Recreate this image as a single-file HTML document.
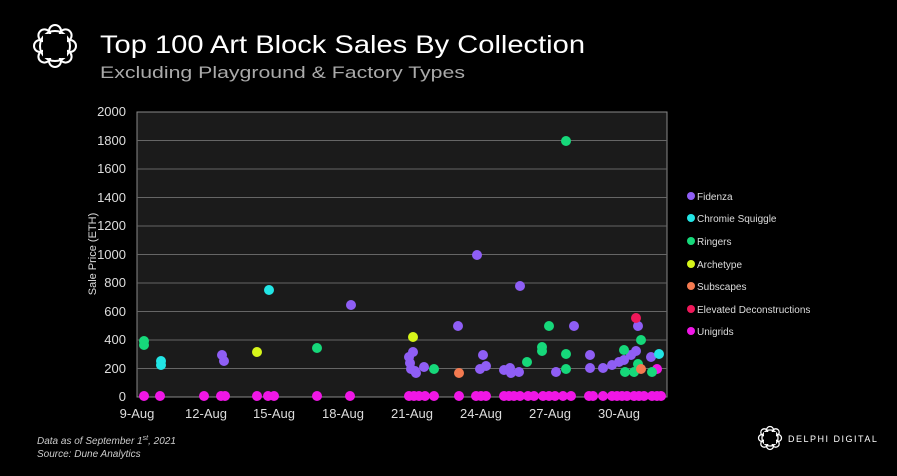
<!DOCTYPE html>
<html><head><meta charset="utf-8"><style>
html,body{margin:0;padding:0;background:#000;}
svg{display:block;font-family:"Liberation Sans",sans-serif;}
</style></head><body>
<svg width="897" height="476" viewBox="0 0 897 476" xmlns="http://www.w3.org/2000/svg">
<rect width="897" height="476" fill="#000"/>
<!-- logo -->
<g fill="none" stroke="#fff" stroke-width="2">
<circle cx="55" cy="46" r="15"/>
<circle cx="55" cy="31" r="6"/><circle cx="70" cy="46" r="6"/><circle cx="55" cy="61" r="6"/><circle cx="40" cy="46" r="6"/>
<circle cx="65.6" cy="35.4" r="6"/><circle cx="65.6" cy="56.6" r="6"/><circle cx="44.4" cy="56.6" r="6"/><circle cx="44.4" cy="35.4" r="6"/>
</g>
<rect x="43" y="34" width="24" height="24" fill="#000"/>
<text x="100" y="53" fill="#fff" font-size="25" textLength="485" lengthAdjust="spacingAndGlyphs">Top 100 Art Block Sales By Collection</text>
<text x="100" y="78" fill="#aaa" font-size="17" textLength="365" lengthAdjust="spacingAndGlyphs">Excluding Playground &amp; Factory Types</text>
<!-- plot -->
<rect x="137" y="112" width="530" height="285" fill="#1b1b1b" stroke="#888" stroke-width="1"/>
<g stroke="#666" stroke-width="1">
<line x1="137" x2="667" y1="140.5" y2="140.5"/><line x1="137" x2="667" y1="169" y2="169"/>
<line x1="137" x2="667" y1="197.5" y2="197.5"/><line x1="137" x2="667" y1="226" y2="226"/>
<line x1="137" x2="667" y1="254.5" y2="254.5"/><line x1="137" x2="667" y1="283" y2="283"/>
<line x1="137" x2="667" y1="311.5" y2="311.5"/><line x1="137" x2="667" y1="340" y2="340"/>
<line x1="137" x2="667" y1="368.5" y2="368.5"/>
</g>
<g fill="#ddd" font-size="13" text-anchor="end">
<text x="126" y="116">2000</text><text x="126" y="145">1800</text><text x="126" y="173">1600</text>
<text x="126" y="202">1400</text><text x="126" y="230">1200</text><text x="126" y="259">1000</text>
<text x="126" y="287">800</text><text x="126" y="316">600</text><text x="126" y="344">400</text>
<text x="126" y="373">200</text><text x="126" y="401">0</text>
</g>
<g fill="#ddd" font-size="13" text-anchor="middle">
<text x="137" y="418">9-Aug</text><text x="206" y="418">12-Aug</text><text x="274" y="418">15-Aug</text>
<text x="343" y="418">18-Aug</text><text x="412" y="418">21-Aug</text><text x="481" y="418">24-Aug</text>
<text x="550" y="418">27-Aug</text><text x="619" y="418">30-Aug</text>
</g>
<text transform="translate(96,254) rotate(-90)" fill="#ddd" font-size="11" text-anchor="middle">Sale Price (ETH)</text>
<!-- Unigrids -->
<g fill="#f016e6">
<circle cx="144" cy="396" r="5"/><circle cx="160" cy="396" r="5"/><circle cx="204" cy="396" r="5"/><circle cx="221" cy="396" r="5"/><circle cx="225" cy="396" r="5"/><circle cx="257" cy="396" r="5"/><circle cx="268" cy="396" r="5"/><circle cx="274" cy="396" r="5"/><circle cx="317" cy="396" r="5"/><circle cx="350" cy="396" r="5"/>
<circle cx="409" cy="396" r="5"/><circle cx="414" cy="396" r="5"/><circle cx="419" cy="396" r="5"/><circle cx="425" cy="396" r="5"/><circle cx="434" cy="396" r="5"/><circle cx="459" cy="396" r="5"/>
<circle cx="476" cy="396" r="5"/><circle cx="481" cy="396" r="5"/><circle cx="486" cy="396" r="5"/><circle cx="504" cy="396" r="5"/><circle cx="509" cy="396" r="5"/><circle cx="514" cy="396" r="5"/><circle cx="520" cy="396" r="5"/><circle cx="528" cy="396" r="5"/><circle cx="534" cy="396" r="5"/>
<circle cx="543" cy="396" r="5"/><circle cx="549" cy="396" r="5"/><circle cx="555" cy="396" r="5"/><circle cx="563" cy="396" r="5"/><circle cx="571" cy="396" r="5"/><circle cx="589" cy="396" r="5"/><circle cx="593" cy="396" r="5"/><circle cx="603" cy="396" r="5"/><circle cx="612" cy="396" r="5"/><circle cx="617" cy="396" r="5"/><circle cx="622" cy="396" r="5"/><circle cx="627" cy="396" r="5"/><circle cx="634" cy="396" r="5"/><circle cx="639" cy="396" r="5"/><circle cx="644" cy="396" r="5"/><circle cx="652" cy="396" r="5"/><circle cx="657" cy="396" r="5"/><circle cx="661" cy="396" r="5"/>
<circle cx="657" cy="369" r="5"/>
</g>
<!-- Fidenza -->
<g fill="#8f5ef5">
<circle cx="222" cy="355" r="5"/><circle cx="224" cy="361" r="5"/><circle cx="351" cy="305" r="5"/>
<circle cx="409" cy="357" r="5"/><circle cx="410" cy="363" r="5"/><circle cx="411" cy="369" r="5"/><circle cx="413" cy="352" r="5"/><circle cx="415" cy="371" r="5"/><circle cx="416" cy="373" r="5"/>
<circle cx="424" cy="367" r="5"/><circle cx="458" cy="326" r="5"/><circle cx="477" cy="255" r="5"/><circle cx="483" cy="355" r="5"/><circle cx="480" cy="369" r="5"/><circle cx="486" cy="366" r="5"/>
<circle cx="504" cy="370" r="5"/><circle cx="510" cy="368" r="5"/><circle cx="511" cy="373" r="5"/><circle cx="519" cy="372" r="5"/><circle cx="520" cy="286" r="5"/><circle cx="556" cy="372" r="5"/><circle cx="574" cy="326" r="5"/>
<circle cx="590" cy="355" r="5"/><circle cx="590" cy="368" r="5"/><circle cx="603" cy="368" r="5"/><circle cx="612" cy="365" r="5"/><circle cx="619" cy="362" r="5"/><circle cx="624" cy="360" r="5"/><circle cx="631" cy="355" r="5"/><circle cx="636" cy="351" r="5"/><circle cx="638" cy="326" r="5"/><circle cx="651" cy="357" r="5"/>
</g>
<!-- Chromie -->
<g fill="#22e5e5"><circle cx="161" cy="361" r="5"/><circle cx="161" cy="365" r="5"/><circle cx="269" cy="290" r="5"/><circle cx="659" cy="354" r="5"/></g>
<!-- Ringers -->
<g fill="#16d87a">
<circle cx="144" cy="341" r="5"/><circle cx="144" cy="345" r="5"/><circle cx="317" cy="348" r="5"/><circle cx="434" cy="369" r="5"/>
<circle cx="527" cy="362" r="5"/><circle cx="542" cy="347" r="5"/><circle cx="542" cy="351" r="5"/><circle cx="549" cy="326" r="5"/><circle cx="566" cy="141" r="5"/><circle cx="566" cy="354" r="5"/><circle cx="566" cy="369" r="5"/>
<circle cx="624" cy="350" r="5"/><circle cx="625" cy="372" r="5"/><circle cx="634" cy="372" r="5"/><circle cx="641" cy="340" r="5"/><circle cx="638" cy="364" r="5"/><circle cx="652" cy="372" r="5"/>
</g>
<g fill="#d6f51a"><circle cx="257" cy="352" r="5"/><circle cx="413" cy="337" r="5"/></g>
<g fill="#f47a50"><circle cx="459" cy="373" r="5"/><circle cx="641" cy="369" r="5"/></g>
<g fill="#f0185a"><circle cx="636" cy="318" r="5"/></g>
<!-- legend -->
<g font-size="10" fill="#ddd">
<circle cx="691" cy="196" r="4" fill="#8f5ef5"/><text x="697" y="200">Fidenza</text>
<circle cx="691" cy="218" r="4" fill="#22e5e5"/><text x="697" y="222">Chromie Squiggle</text>
<circle cx="691" cy="241" r="4" fill="#16d87a"/><text x="697" y="245">Ringers</text>
<circle cx="691" cy="264" r="4" fill="#d6f51a"/><text x="697" y="268">Archetype</text>
<circle cx="691" cy="286" r="4" fill="#f47a50"/><text x="697" y="290">Subscapes</text>
<circle cx="691" cy="309" r="4" fill="#f0185a"/><text x="697" y="313">Elevated Deconstructions</text>
<circle cx="691" cy="331" r="4" fill="#f016e6"/><text x="697" y="335">Unigrids</text>
</g>
<!-- footer -->
<g font-size="10" fill="#ccc" font-style="italic">
<text x="37" y="444">Data as of September 1<tspan font-size="7" dy="-4">st</tspan><tspan dy="4">, 2021</tspan></text>
<text x="37" y="457">Source:  Dune Analytics</text>
</g>
<g fill="none" stroke="#fff" stroke-width="1.3">
<circle cx="770" cy="438" r="8"/><circle cx="770" cy="430" r="3.5"/><circle cx="778" cy="438" r="3.5"/><circle cx="770" cy="446" r="3.5"/><circle cx="762" cy="438" r="3.5"/>
<circle cx="775.7" cy="432.3" r="3.5"/><circle cx="775.7" cy="443.7" r="3.5"/><circle cx="764.3" cy="443.7" r="3.5"/><circle cx="764.3" cy="432.3" r="3.5"/>
</g>
<rect x="764" y="432" width="12" height="12" fill="#000"/>
<text x="788" y="442" fill="#fff" font-size="9" letter-spacing="1.5">DELPHI DIGITAL</text>
</svg>
</body></html>
